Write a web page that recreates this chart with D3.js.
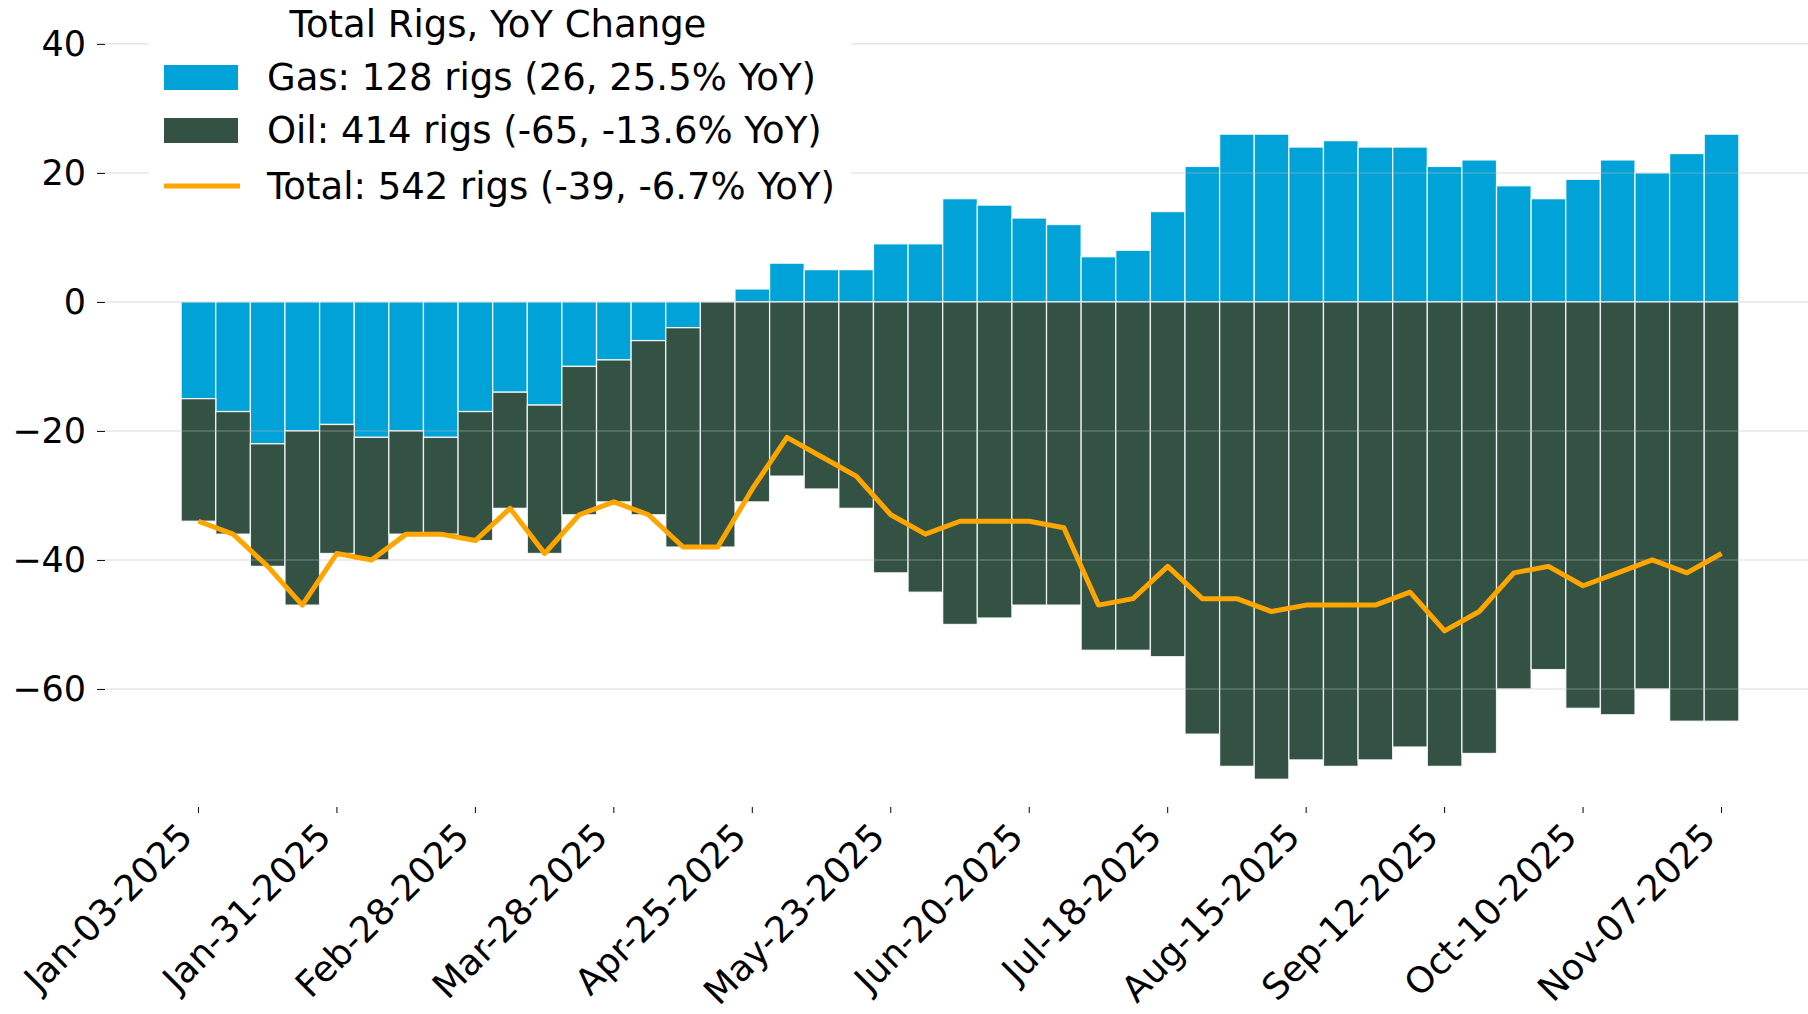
<!DOCTYPE html>
<html>
<head>
<meta charset="utf-8">
<script src="https://cdn.jsdelivr.net/npm/d3@7"></script>
<style>
  body { margin: 0; background: #fff; }
  text { font-family: "DejaVu Sans", sans-serif; }
</style>
</head>
<body>
<div id="chart"></div>
<script>
// weekly report dates (Fridays)
var weeks = ["2025-01-03","2025-01-10","2025-01-17","2025-01-24","2025-01-31",
  "2025-02-07","2025-02-14","2025-02-21","2025-02-28",
  "2025-03-07","2025-03-14","2025-03-21","2025-03-28",
  "2025-04-04","2025-04-11","2025-04-18","2025-04-25",
  "2025-05-02","2025-05-09","2025-05-16","2025-05-23","2025-05-30",
  "2025-06-06","2025-06-13","2025-06-20","2025-06-27",
  "2025-07-04","2025-07-11","2025-07-18","2025-07-25",
  "2025-08-01","2025-08-08","2025-08-15","2025-08-22","2025-08-29",
  "2025-09-05","2025-09-12","2025-09-19","2025-09-26",
  "2025-10-03","2025-10-10","2025-10-17","2025-10-24","2025-10-31",
  "2025-11-07"];

// YoY change in rig counts
var gasYoY = [-15,-17,-22,-20,-19,-21,-20,-21,-17,-14,-16,-10,-9,-6,-4,0,
  2,6,5,5,9,9,16,15,13,12,7,8,14,21,26,26,24,25,24,24,21,22,18,16,19,22,20,23,26];
var oilYoY = [-19,-19,-19,-27,-20,-19,-16,-15,-20,-18,-23,-23,-22,-27,-34,-38,
  -31,-27,-29,-32,-42,-45,-50,-49,-47,-47,-54,-54,-55,-67,-72,-74,-71,-72,-71,-69,-72,-70,-60,-57,-63,-64,-60,-65,-65];
var totalYoY = [-34,-36,-41,-47,-39,-40,-36,-36,-37,-32,-39,-33,-31,-33,-38,-38,
  -29,-21,-24,-27,-33,-36,-34,-34,-34,-35,-47,-46,-41,-46,-46,-48,-47,-47,-47,-45,-51,-48,-42,-41,-44,-42,-40,-42,-39];

var yTicks = [-60, -40, -20, 0, 20, 40];
var legendTitle = "Total Rigs, YoY Change";
var legendLabels = ["Gas: 128 rigs (26, 25.5% YoY)",
  "Oil: 414 rigs (-65, -13.6% YoY)",
  "Total: 542 rigs (-39, -6.7% YoY)"];
var note = "Source: Baker Hughes Rig Count, Data as of Nov-07-2025";

var width = 1808;
var height = 1014;
var gasColor = "#00a2d8";
var oilColor = "#335244";
var totalColor = "#ffa500";

var svg = d3.select("#chart")
  .append("svg")
  .attr("width", width)
  .attr("height", height);

var rows = weeks.map(function(w, i) {
  return { week: w, gas: gasYoY[i], oil: oilYoY[i], total: totalYoY[i] };
});

// scales
var xScale = d3.scaleBand()
  .domain(weeks)
  .range([105, 1815])
  .paddingInner(0)
  .paddingOuter(2.2);

var yScale = d3.scaleLinear()
  .domain([-78.3, 46.8])
  .range([807, 0]);

// gas bars go from 0, oil stacks under gas when gas is negative
svg.append("g")
  .selectAll("rect")
  .data(rows)
  .enter()
  .append("rect")
  .attr("x", function(d) { return xScale(d.week); })
  .attr("width", xScale.bandwidth())
  .attr("y", function(d) { return yScale(Math.max(d.gas, 0)); })
  .attr("height", function(d) { return Math.abs(yScale(0) - yScale(d.gas)); })
  .attr("fill", gasColor)
  .attr("stroke", "#ffffff")
  .attr("stroke-opacity", 0.85)
  .attr("stroke-width", 1.3);

svg.append("g")
  .selectAll("rect")
  .data(rows)
  .enter()
  .append("rect")
  .attr("x", function(d) { return xScale(d.week); })
  .attr("width", xScale.bandwidth())
  .attr("y", function(d) { return yScale(Math.min(d.gas, 0)); })
  .attr("height", function(d) { return yScale(d.oil) - yScale(0); })
  .attr("fill", oilColor)
  .attr("stroke", "#ffffff")
  .attr("stroke-opacity", 0.85)
  .attr("stroke-width", 1.3);

// grid on top of bars
svg.append("g")
  .selectAll("line")
  .data(yTicks)
  .enter()
  .append("line")
  .attr("x1", 105)
  .attr("x2", width)
  .attr("y1", function(d) { return yScale(d); })
  .attr("y2", function(d) { return yScale(d); })
  .attr("stroke", "#b8b8b8")
  .attr("stroke-opacity", 0.35)
  .attr("stroke-width", 1.5);

// total line
var line = d3.line()
  .x(function(d) { return xScale(d.week) + xScale.bandwidth() / 2; })
  .y(function(d) { return yScale(d.total); });

svg.append("path")
  .datum(rows)
  .attr("d", line)
  .attr("fill", "none")
  .attr("stroke", totalColor)
  .attr("stroke-width", 5)
  .attr("stroke-linejoin", "round");

// axes
var yAxis = d3.axisLeft(yScale).tickValues(yTicks).tickSize(8).tickPadding(11);
var yG = svg.append("g")
  .attr("transform", "translate(105,0)")
  .call(yAxis);
yG.select(".domain").remove();
yG.selectAll("text").attr("font-size", 35).attr("fill", "#000");

var fmt = d3.timeFormat("%b-%d-%Y");
var parse = d3.timeParse("%Y-%m-%d");
var xAxis = d3.axisBottom(xScale)
  .tickValues(weeks.filter(function(w, i) { return i % 4 === 0; }))
  .tickSize(6)
  .tickFormat(function(w) { return fmt(parse(w)); });
var xG = svg.append("g")
  .attr("transform", "translate(0,807)")
  .call(xAxis);
xG.select(".domain").remove();
xG.selectAll("text")
  .attr("font-size", 36)
  .attr("fill", "#000")
  .attr("text-anchor", "end")
  .attr("x", 0)
  .attr("y", 0)
  .attr("dy", "0.35em")
  .attr("transform", "translate(-13,23) rotate(-45)");

// legend
var legend = svg.append("g");
legend.append("rect")
  .attr("x", 149).attr("y", 0)
  .attr("width", 702).attr("height", 219)
  .attr("fill", "#fff");

legend.append("text")
  .attr("x", 498).attr("y", 24)
  .attr("dy", "0.35em")
  .attr("text-anchor", "middle")
  .attr("font-size", 37)
  .text(legendTitle);

var rowY = [77.5, 130.5, 186];
legend.append("rect")
  .attr("x", 164).attr("y", rowY[0] - 12.5)
  .attr("width", 74).attr("height", 25)
  .attr("fill", gasColor);
legend.append("rect")
  .attr("x", 164).attr("y", rowY[1] - 12.5)
  .attr("width", 74).attr("height", 25)
  .attr("fill", oilColor);
legend.append("line")
  .attr("x1", 164).attr("x2", 240)
  .attr("y1", rowY[2]).attr("y2", rowY[2])
  .attr("stroke", totalColor)
  .attr("stroke-width", 5);

legend.selectAll("text.item")
  .data(legendLabels)
  .enter()
  .append("text")
  .attr("class", "item")
  .attr("x", 267)
  .attr("y", function(d, i) { return rowY[i]; })
  .attr("dy", "0.35em")
  .attr("font-size", 37)
  .text(function(d) { return d; });

// footnote, cut by the bottom edge as in the source
svg.append("text")
  .attr("x", 18).attr("y", 1030)
  .attr("font-size", 22)
  .attr("fill", "#888")
  .text(note);
</script>
</body>
</html>
